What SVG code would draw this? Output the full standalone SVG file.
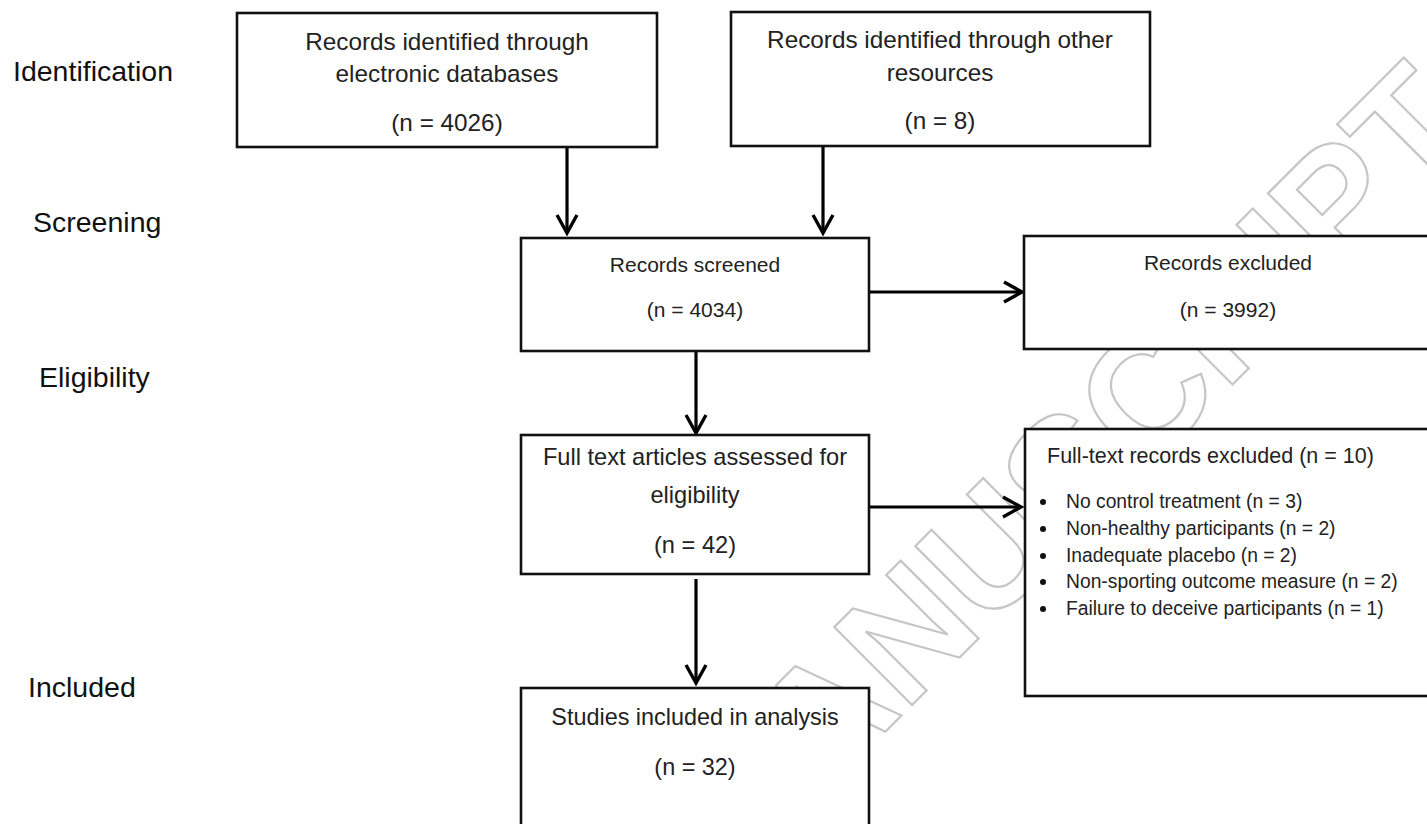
<svg xmlns="http://www.w3.org/2000/svg" width="1427" height="824" viewBox="0 0 1427 824">
<style>
.box{fill:#fff;stroke:#111;stroke-width:2.6}
.t{font-family:"Liberation Sans",Arial,sans-serif;fill:#222;text-anchor:middle}
.l{font-family:"Liberation Sans",Arial,sans-serif;fill:#111;font-size:28.5px}
.b{font-family:"Liberation Sans",Arial,sans-serif;fill:#222}
.wm{font-family:"Liberation Sans",Arial,sans-serif;font-weight:bold;font-size:160px;fill:none;stroke:#c6c6c6;stroke-width:2.2}
.c{fill:none;stroke:#000;stroke-width:3.2}
</style>
<defs>
<marker id="arr" markerUnits="userSpaceOnUse" markerWidth="24" markerHeight="26" viewBox="-20 -13 24 26" refX="0" refY="0" orient="auto" overflow="visible">
<path d="M-18,-10 L0,0 L-18,10" fill="none" stroke="#000" stroke-width="3.4" stroke-linejoin="miter"/>
</marker>
</defs>
<rect width="1427" height="824" fill="#fff"/>
<g id="watermark">
<text class="wm" transform="translate(728.6,888.4) rotate(-45)">MANUSCRIPT</text>
</g>
<g id="stage-labels">
<text class="l" x="13" y="81">Identification</text>
<text class="l" x="33" y="232">Screening</text>
<text class="l" x="39" y="387">Eligibility</text>
<text class="l" x="28" y="697">Included</text>
</g>
<g id="connectors">
<path class="c" d="M567,147 V233" marker-end="url(#arr)"/>
<path class="c" d="M823,146 V233" marker-end="url(#arr)"/>
<path class="c" d="M869,292 H1022" marker-end="url(#arr)"/>
<path class="c" d="M696,351 V433" marker-end="url(#arr)"/>
<path class="c" d="M869,507 H1021" marker-end="url(#arr)"/>
<path class="c" d="M696,579 V683" marker-end="url(#arr)"/>
</g>
<g id="n-databases">
<rect class="box" x="237" y="13" width="420" height="134"/>
<text class="t" x="447" y="50" font-size="24.3">Records identified through</text>
<text class="t" x="447" y="82" font-size="24.3">electronic databases</text>
<text class="t" x="447" y="131" font-size="24.3">(n = 4026)</text>
</g>
<g id="n-other">
<rect class="box" x="731" y="12" width="419" height="134"/>
<text class="t" x="940" y="48" font-size="24.3">Records identified through other</text>
<text class="t" x="940" y="81" font-size="24.3">resources</text>
<text class="t" x="940" y="129" font-size="24.3">(n = 8)</text>
</g>
<g id="n-screened">
<rect class="box" x="521" y="238" width="348" height="113"/>
<text class="t" x="695" y="272" font-size="21">Records screened</text>
<text class="t" x="695" y="317" font-size="21">(n = 4034)</text>
</g>
<g id="n-excluded">
<rect class="box" x="1024" y="236" width="420" height="113"/>
<text class="t" x="1228" y="270" font-size="21">Records excluded</text>
<text class="t" x="1228" y="317" font-size="21">(n = 3992)</text>
</g>
<g id="n-eligibility">
<rect class="box" x="521" y="435" width="348" height="139"/>
<text class="t" x="695" y="465" font-size="23.6">Full text articles assessed for</text>
<text class="t" x="695" y="503" font-size="23.6">eligibility</text>
<text class="t" x="695" y="553" font-size="23.6">(n = 42)</text>
</g>
<g id="n-fulltext-excluded">
<rect class="box" x="1025" y="429" width="420" height="267"/>
<text class="b" x="1047" y="463" font-size="21.5">Full-text records excluded (n = 10)</text>
<g fill="#111">
<circle cx="1043" cy="502" r="3"/>
<circle cx="1043" cy="529" r="3"/>
<circle cx="1043" cy="556" r="3"/>
<circle cx="1043" cy="582" r="3"/>
<circle cx="1043" cy="609" r="3"/>
</g>
<text class="b" x="1066" y="508" font-size="19.3">No control treatment (n = 3)</text>
<text class="b" x="1066" y="535" font-size="19.3">Non-healthy participants (n = 2)</text>
<text class="b" x="1066" y="562" font-size="19.3">Inadequate placebo (n = 2)</text>
<text class="b" x="1066" y="588" font-size="19.3">Non-sporting outcome measure (n = 2)</text>
<text class="b" x="1066" y="615" font-size="19.3">Failure to deceive participants (n = 1)</text>
</g>
<g id="n-included">
<rect class="box" x="521" y="688" width="348" height="150"/>
<text class="t" x="695" y="725" font-size="23.4">Studies included in analysis</text>
<text class="t" x="695" y="775" font-size="23.4">(n = 32)</text>
</g>
</svg>
